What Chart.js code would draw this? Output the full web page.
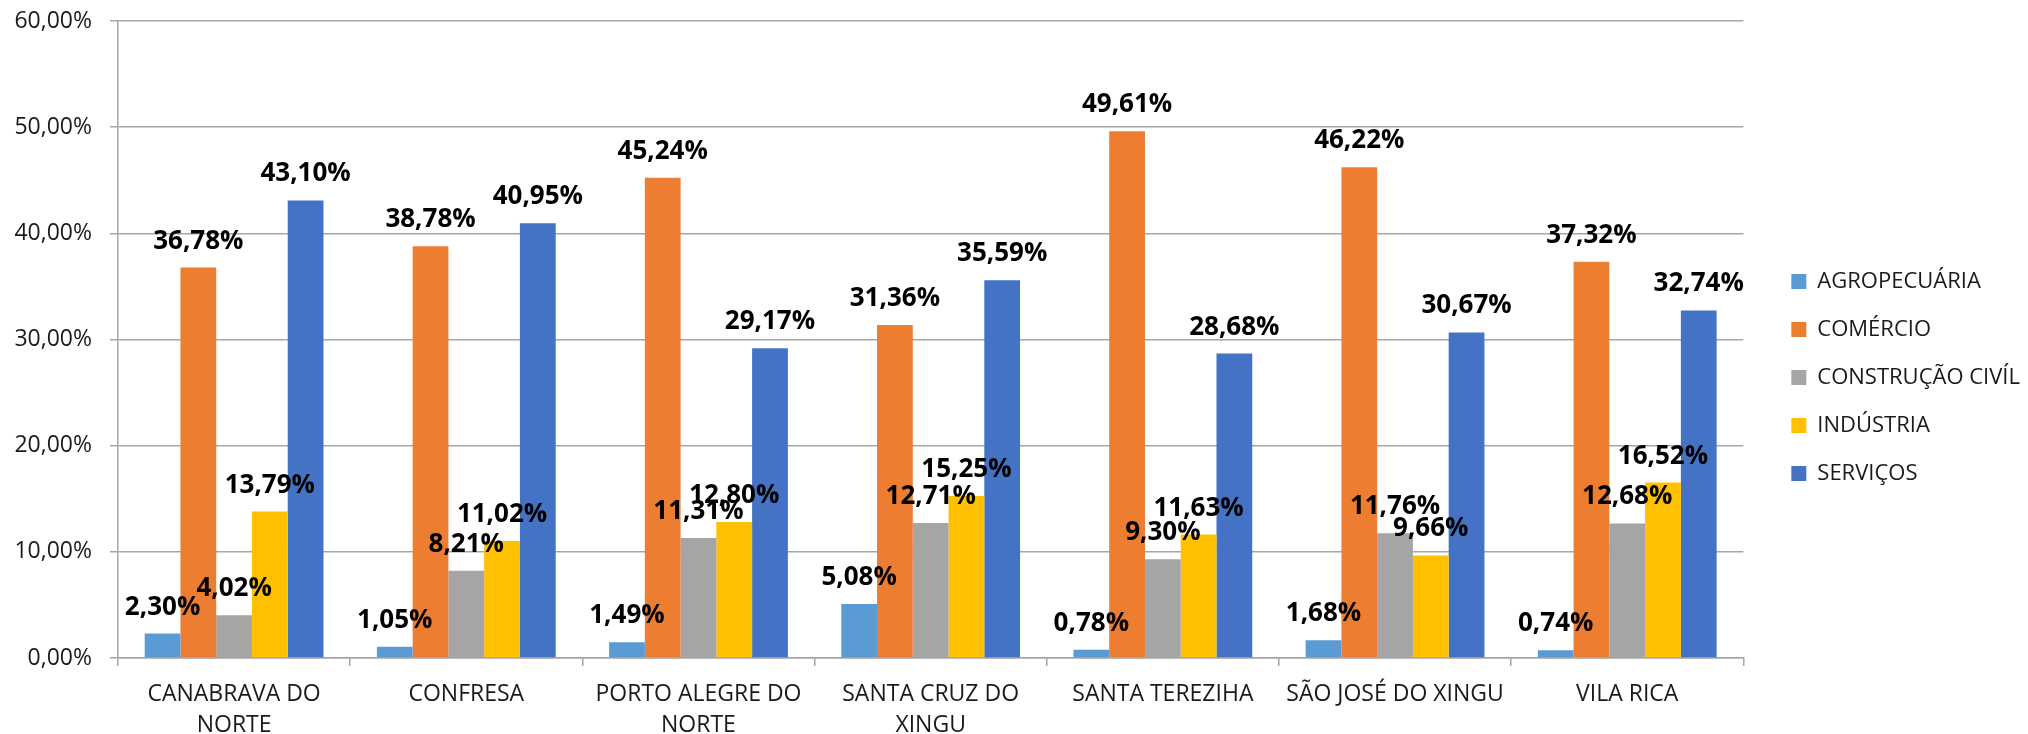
<!DOCTYPE html>
<html>
<head>
<meta charset="utf-8">
<script src="https://cdn.jsdelivr.net/npm/chart.js@4.4.0/dist/chart.umd.min.js"></script>
<style>
  html, body { margin: 0; padding: 0; background: #ffffff; }
  #wrap { width: 2028px; height: 734px; }
</style>
</head>
<body>
<div id="wrap"><canvas id="chart" width="2028" height="734"></canvas></div>
<script>
// municípios (categorias do eixo X)
const categories = [
  ['CANABRAVA DO', 'NORTE'],
  'CONFRESA',
  ['PORTO ALEGRE DO', 'NORTE'],
  ['SANTA CRUZ DO', 'XINGU'],
  'SANTA TEREZIHA',
  'SÃO JOSÉ DO XINGU',
  'VILA RICA'
];

// participação por setor (%)
const agropecuaria = [2.30, 1.05, 1.49, 5.08, 0.78, 1.68, 0.74];
const comercio     = [36.78, 38.78, 45.24, 31.36, 49.61, 46.22, 37.32];
const construcao   = [4.02, 8.21, 11.31, 12.71, 9.30, 11.76, 12.68];
const industria    = [13.79, 11.02, 12.80, 15.25, 11.63, 9.66, 16.52];
const servicos     = [43.10, 40.95, 29.17, 35.59, 28.68, 30.67, 32.74];

const yTicks = [0, 10, 20, 30, 40, 50, 60];

const fmt = (v) => v.toFixed(2).replace('.', ',') + '%';
const gridGray = '#a6a6a6';
const textColor = '#1a1a1a';

// rótulos de valor acima de cada barra
const valueLabels = {
  id: 'valueLabels',
  afterDatasetsDraw(chart) {
    const ctx = chart.ctx;
    ctx.save();
    ctx.font = 'bold 26px "Open Sans"';
    ctx.fillStyle = '#000000';
    ctx.textAlign = 'center';
    ctx.textBaseline = 'alphabetic';
    chart.data.datasets.forEach((ds, i) => {
      chart.getDatasetMeta(i).data.forEach((bar, j) => {
        ctx.fillText(fmt(ds.data[j]), bar.x, bar.y - 19);
      });
    });
    ctx.restore();
  }
};

// empurra a legenda um pouco para a direita sem mexer na área do gráfico
const legendShift = {
  id: 'legendShift',
  afterLayout(chart) {
    if (chart.legend) {
      chart.legend.left += 22;
      chart.legend.right += 22;
    }
  }
};

new Chart(document.getElementById('chart').getContext('2d'), {
  type: 'bar',
  data: {
    labels: categories,
    datasets: [
      { label: 'AGROPECUÁRIA', data: agropecuaria, backgroundColor: '#5b9bd5' },
      { label: 'COMÉRCIO', data: comercio, backgroundColor: '#ed7d31' },
      { label: 'CONSTRUÇÃO CIVÍL', data: construcao, backgroundColor: '#a5a5a5' },
      { label: 'INDÚSTRIA', data: industria, backgroundColor: '#ffc000' },
      { label: 'SERVIÇOS', data: servicos, backgroundColor: '#4472c4' }
    ]
  },
  options: {
    responsive: false,
    animation: false,
    devicePixelRatio: 1,
    layout: { padding: { top: 21, left: 0, right: 20, bottom: 0 } },
    datasets: { bar: { categoryPercentage: 0.77, barPercentage: 1.0 } },
    plugins: {
      legend: {
        position: 'right',
        labels: {
          boxWidth: 15,
          boxHeight: 15,
          padding: 26,
          color: textColor,
          font: { family: '"Open Sans"', size: 22 }
        }
      },
      tooltip: { enabled: false }
    },
    scales: {
      x: {
        afterFit: (s) => { s.height = 76; },
        grid: { offset: true, drawOnChartArea: false, drawTicks: true, tickLength: 8, color: gridGray, lineWidth: 1.5 },
        border: { display: true, color: gridGray, width: 1.5 },
        ticks: {
          color: textColor,
          padding: 13,
          maxRotation: 0,
          autoSkip: false,
          font: { family: '"Open Sans"', size: 23, lineHeight: 1.35 }
        }
      },
      y: {
        min: 0,
        max: 60,
        afterFit: (s) => { s.width = 118; s.paddingTop = 0; s.paddingBottom = 0; },
        afterBuildTicks: (s) => { s.ticks = yTicks.map(v => ({ value: v })); },
        grid: { color: gridGray, lineWidth: 1.5, drawTicks: true, tickLength: 8 },
        border: { display: true, color: gridGray, width: 1.5 },
        ticks: {
          color: textColor,
          padding: 18,
          font: { family: '"Open Sans"', size: 23 },
          callback: (v) => fmt(v)
        }
      }
    }
  },
  plugins: [valueLabels, legendShift]
});
</script>
</body>
</html>
